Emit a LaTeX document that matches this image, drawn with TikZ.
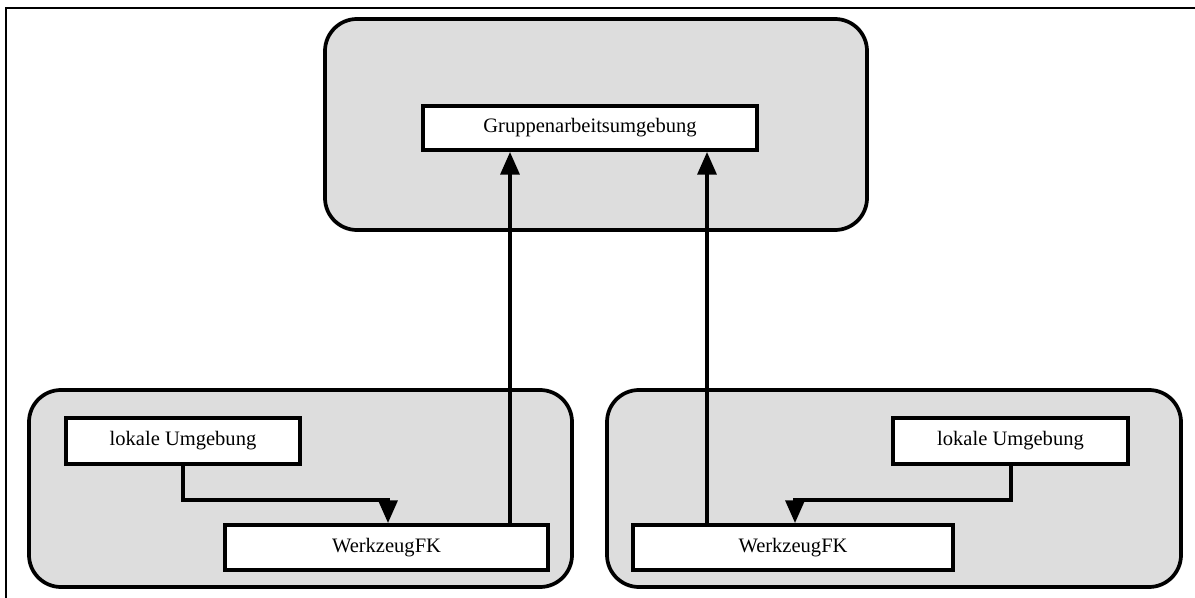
\documentclass[tikz,border=0pt]{standalone}
\usepackage{fontspec}
\setmainfont{Liberation Serif}
\usetikzlibrary{arrows.meta}
\definecolor{groupgray}{HTML}{DDDDDD}
\tikzset{
  group/.style={draw=black, fill=groupgray, line width=2.8pt, rounded corners=24pt},
  comp/.style={draw=black, fill=white, line width=2.8pt, rectangle, inner sep=0pt,
               font=\fontsize{15.4}{18}\selectfont},
  link/.style={line width=3pt, -{Triangle[width=14pt,length=17pt]}},
  frameline/.style={line width=2pt}
}
\begin{document}
\begin{tikzpicture}[x=0.75pt, y=-0.75pt]
  \useasboundingbox (0,0) rectangle (1195,598);
  % outer frame (top and left edges)
  \draw[frameline] (6,598) -- (6,8) -- (1195,8);

  % containers
  \draw[group] (325,19) rectangle (867,230);
  \draw[group] (29,390) rectangle (572,587);
  \draw[group] (607,390) rectangle (1181,587);

  % components
  \node[comp, minimum width=250.5pt, minimum height=33pt] (gr) at (590,128) {Gruppenarbeitsumgebung};
  \node[comp, minimum width=175.5pt, minimum height=34.5pt] (lokL) at (183,441) {lokale Umgebung};
  \node[comp, minimum width=242.25pt, minimum height=33.75pt] (wkL) at (386.5,547.5) {WerkzeugFK};
  \node[comp, minimum width=176.25pt, minimum height=34.5pt] (lokR) at (1010.5,441) {lokale Umgebung};
  \node[comp, minimum width=240pt, minimum height=33.75pt] (wkR) at (793,547.5) {WerkzeugFK};

  % connector attachment points
  \coordinate (bendL) at (388,500);
  \coordinate (bendR) at (795,500);
  \coordinate (upL) at (510,525);
  \coordinate (upR) at (707,525);

  % local environment to tool
  \draw[link] (lokL.south) |- (bendL) -- (bendL |- wkL.north);
  \draw[link] (lokR.south) |- (bendR) -- (bendR |- wkR.north);

  % tool to group environment
  \draw[link] (upL) -- (upL |- gr.south);
  \draw[link] (upR) -- (upR |- gr.south);
\end{tikzpicture}
\end{document}
